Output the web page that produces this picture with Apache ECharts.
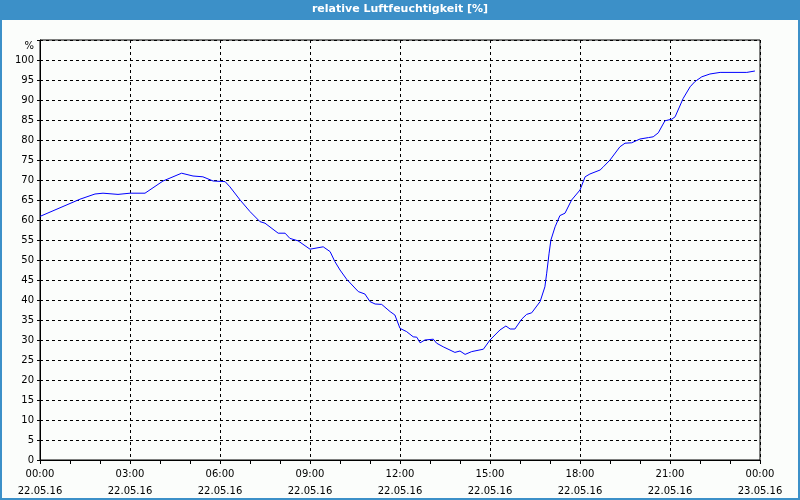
<!DOCTYPE html>
<html><head><meta charset="utf-8">
<script src="https://cdn.jsdelivr.net/npm/echarts@6/dist/echarts.min.js"></script>
<style>html,body{margin:0;padding:0;background:#fbfdfb;}#c{width:800px;height:500px;}</style>
</head><body><div id="c"></div>
<script>
const titleText = 'relative Luftfeuchtigkeit [%]';
const hours = [0,1.333,1.833,2.1,2.6,3.0,3.5,4.1,4.72,5.1,5.43,5.77,6.17,6.33,6.67,7.0,7.33,7.5,7.94,8.17,8.33,8.6,9.0,9.44,9.67,9.83,10.0,10.22,10.61,10.83,11.0,11.17,11.39,11.67,11.83,12.0,12.22,12.44,12.56,12.67,12.83,13.11,13.22,13.44,13.83,14.0,14.17,14.39,14.78,15.0,15.33,15.53,15.67,15.83,16.06,16.22,16.39,16.67,16.83,16.89,16.97,17.03,17.17,17.33,17.5,17.72,18.0,18.17,18.33,18.67,18.78,19.0,19.33,19.5,19.72,20.0,20.28,20.44,20.61,20.83,21.06,21.17,21.44,21.67,21.83,22.06,22.33,22.67,23.56,23.83];
const humidity = [60.9,65.2,66.5,66.7,66.4,66.7,66.7,69.75,71.7,71.0,70.8,69.75,69.6,68.3,65.0,62.1,59.6,59.2,56.7,56.7,55.4,54.8,52.7,53.3,52.1,49.6,47.5,45.2,42.1,41.5,39.6,39.0,38.9,37.1,36.25,32.9,32.1,30.8,30.7,29.3,30.0,30.2,29.2,28.3,26.9,27.25,26.4,27.1,27.7,30.0,32.5,33.5,32.75,32.75,35.25,36.4,36.8,39.6,43.3,46.7,51.7,55.0,58.3,61.1,61.7,65.0,67.5,70.8,71.5,72.5,73.3,75.0,78.3,79.2,79.3,80.25,80.6,80.8,81.8,84.8,85.2,85.8,90.4,93.3,94.6,95.8,96.5,96.9,96.9,97.25];
const timeLabels = ['00:00','03:00','06:00','09:00','12:00','15:00','18:00','21:00','00:00'];
const dateLabels = ['22.05.16','22.05.16','22.05.16','22.05.16','22.05.16','22.05.16','22.05.16','22.05.16','23.05.16'];

const chart = echarts.init(document.getElementById('c'));
const fontFamily = 'DejaVu Sans';
chart.setOption({
  backgroundColor: '#fbfdfb',
  animation: false,
  graphic: [
    {type:'rect', shape:{x:0,y:0,width:800,height:20}, style:{fill:'#3c90c8'}},
    {type:'rect', shape:{x:0,y:0,width:2,height:500}, style:{fill:'#3c90c8'}},
    {type:'rect', shape:{x:798,y:0,width:2,height:500}, style:{fill:'#3c90c8'}},
    {type:'rect', shape:{x:0,y:498,width:800,height:2}, style:{fill:'#3c90c8'}},
    {type:'text', left:'center', top:4, style:{text:titleText, fill:'#fff', font:'bold 11px "DejaVu Sans"'}}
  ],
  grid: {left:40, right:40, top:40, bottom:40, show:true, borderColor:'#000', borderWidth:1, backgroundColor:'transparent'},
  xAxis: {
    type:'value', min:0, max:24, interval:3,
    axisLine:{show:true, lineStyle:{color:'#000', width:1}},
    axisTick:{show:true, length:4, lineStyle:{color:'#000'}},
    minorTick:{show:true, splitNumber:3, length:4, lineStyle:{color:'#000'}},
    splitLine:{show:true, lineStyle:{color:'#000', type:[3,3], width:1}},
    axisLabel:{color:'#000', fontFamily, fontSize:10, lineHeight:17, margin:6,
      formatter: v => { const i = Math.round(v/3); return timeLabels[i] + '\n' + dateLabels[i]; }}
  },
  yAxis: {
    type:'value', min:0, max:105, interval:5,
    axisLine:{show:true, lineStyle:{color:'#000', width:1}},
    axisTick:{show:true, length:3, lineStyle:{color:'#000'}},
    splitLine:{show:true, lineStyle:{color:'#000', type:[3,3], width:1}},
    axisLabel:{color:'#000', fontFamily, fontSize:10, margin:6,
      formatter: v => v === 105 ? '{p|%}' : String(v),
      rich:{p:{padding:[12,0,0,0], fontFamily, fontSize:10, color:'#000'}}}
  },
  series: [{
    type:'line', data: hours.map((h,i)=>[h, humidity[i]]),
    showSymbol:false, symbol:'none',
    lineStyle:{color:'#0000ff', width:1}
  }]
});
</script></body></html>
